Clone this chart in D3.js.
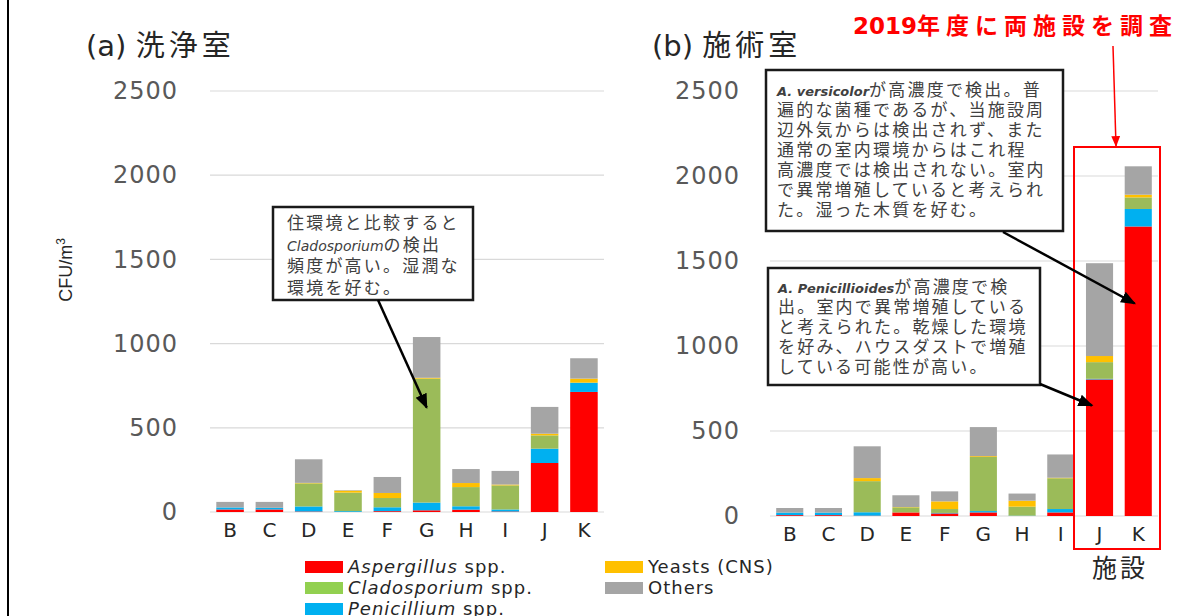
<!DOCTYPE html>
<html>
<head>
<meta charset="utf-8">
<script src="https://cdn.jsdelivr.net/npm/d3@7"></script>
<style>
  body { margin: 0; background: #fff; }
  svg { display: block; }
</style>
</head>
<body>
<div id="chart"></div>
<script>
// data (CFU/m3)
var facilities = ["B", "C", "D", "E", "F", "G", "H", "I", "J", "K"];
var yTicks = [0, 500, 1000, 1500, 2000, 2500];

// (a) 洗浄室
var aspA    = [15, 15, 3, 0, 5, 10, 14, 3, 291, 713];
var penA    = [12, 10, 30, 5, 23, 46, 20, 12, 85, 55];
var cladA   = [0, 0, 137, 110, 55, 736, 114, 143, 79, 0];
var yeastA  = [0, 0, 3, 12, 30, 5, 24, 5, 10, 24];
var othersA = [33, 35, 140, 3, 95, 242, 83, 81, 159, 121];

// (b) 施術室
var aspB    = [5, 5, 2, 21, 15, 21, 0, 21, 803, 1703];
var penB    = [15, 15, 20, 0, 3, 8, 2, 20, 4, 103];
var cladB   = [0, 0, 183, 30, 23, 318, 53, 181, 98, 68];
var yeastB  = [0, 0, 18, 2, 45, 5, 35, 3, 36, 16];
var othersB = [27, 27, 187, 69, 59, 171, 42, 137, 546, 167];

var keys = ["asp", "pen", "clad", "yeast", "others"];
var barColor = {asp: "#FF0000", pen: "#00B0F0", clad: "#9BBB59", yeast: "#FFC000", others: "#A5A5A5"};
var legendColor = {asp: "#FF0000", pen: "#00B0F0", clad: "#92D050", yeast: "#FFC000", others: "#A5A5A5"};

var width = 1196, height = 616;
var svg = d3.select("#chart").append("svg")
    .attr("width", width)
    .attr("height", height);

var defs = svg.append("defs");
function marker(id, color, size) {
  defs.append("marker")
      .attr("id", id)
      .attr("viewBox", "0 0 10 10")
      .attr("refX", 9).attr("refY", 5)
      .attr("markerWidth", size).attr("markerHeight", size)
      .attr("markerUnits", "userSpaceOnUse")
      .attr("orient", "auto")
    .append("path")
      .attr("d", "M0,1 L10,5 L0,9 Z")
      .attr("fill", color);
}
marker("arrowK", "#000", 15);
marker("arrowR", "#FF0000", 11);

// left frame line
svg.append("line")
    .attr("x1", 8).attr("x2", 8).attr("y1", 0).attr("y2", height)
    .attr("stroke", "#000").attr("stroke-width", 2);

function makeRows(asp, pen, clad, yeast, others) {
  return facilities.map(function(f, i) {
    return {f: f, asp: asp[i], pen: pen[i], clad: clad[i], yeast: yeast[i], others: others[i]};
  });
}

const render_panel = (rows, box, tag, title, labelRight) => {
  var x = d3.scaleBand()
      .domain(facilities)
      .range([box.x0, box.x1])
      .paddingInner(0.3)
      .paddingOuter(0.16);
  var y = d3.scaleLinear()
      .domain([0, 2500])
      .range([box.y0, box.y1]);

  // gridlines
  svg.append("g")
    .selectAll("line")
    .data(yTicks)
    .enter().append("line")
      .attr("x1", box.x0).attr("x2", box.x1)
      .attr("y1", function(d) { return y(d); })
      .attr("y2", function(d) { return y(d); })
      .attr("stroke", "#D9D9D9")
      .attr("stroke-width", 1.2);

  // y axis labels
  var yAxis = svg.append("g")
      .attr("transform", "translate(" + box.x0 + ",0)")
      .call(d3.axisLeft(y).tickValues(yTicks).tickFormat(d3.format("d"))
        .tickSize(0).tickPadding(box.x0 - labelRight));
  yAxis.select(".domain").remove();
  yAxis.selectAll("text")
      .attr("fill", "#595959")
      .style("font-family", "DejaVu Sans")
      .style("font-size", "24px")
      .style("letter-spacing", "1px");

  // stacked bars
  var stacked = d3.stack().keys(keys)(rows);
  svg.append("g")
    .selectAll("g")
    .data(stacked)
    .enter().append("g")
      .attr("fill", function(d) { return barColor[d.key]; })
    .selectAll("rect")
    .data(function(d) { return d; })
    .enter().append("rect")
      .attr("x", function(d) { return x(d.data.f); })
      .attr("width", x.bandwidth())
      .attr("y", function(d) { return y(d[1]); })
      .attr("height", function(d) { return y(d[0]) - y(d[1]); });

  // x axis labels
  var xAxis = svg.append("g")
      .attr("transform", "translate(0," + box.y0 + ")")
      .call(d3.axisBottom(x).tickSize(0).tickPadding(11));
  xAxis.select(".domain").remove();
  xAxis.selectAll("text")
      .attr("fill", "#262626")
      .style("font-family", "DejaVu Sans")
      .style("font-size", "20px");

  // panel title
  var t = svg.append("text")
      .attr("x", box.titleX).attr("y", 56)
      .attr("fill", "#262626")
      .style("font-size", "29px");
  t.append("tspan").style("font-family", "DejaVu Sans").text(tag + " ");
  t.append("tspan").style("font-family", "Noto Sans CJK JP")
      .style("letter-spacing", "4px").text(title);

  return {x: x, y: y};
};

var left = render_panel(makeRows(aspA, penA, cladA, yeastA, othersA),
    {x0: 210, x1: 604, y0: 512, y1: 91, titleX: 86}, "(a)", "洗浄室", 178);
var right = render_panel(makeRows(aspB, penB, cladB, yeastB, othersB),
    {x0: 770, x1: 1158, y0: 516, y1: 91, titleX: 652}, "(b)", "施術室", 740);

// y axis title
var yt = svg.append("text")
    .attr("transform", "translate(72,270) rotate(-90)")
    .attr("text-anchor", "middle")
    .attr("fill", "#262626")
    .style("font-family", "Liberation Sans")
    .style("font-size", "18px");
yt.append("tspan").text("CFU/m");
yt.append("tspan").attr("dy", -7).style("font-size", "12px").text("3");

// 施設 label
svg.append("text")
    .attr("x", 1120).attr("y", 577)
    .attr("text-anchor", "middle")
    .attr("fill", "#262626")
    .style("font-family", "Noto Sans CJK JP")
    .style("font-size", "25px")
    .style("letter-spacing", "3px")
    .text("施設");

// highlight box around J, K of (b)
svg.append("rect")
    .attr("x", 1074).attr("y", 147)
    .attr("width", 86).attr("height", 402)
    .attr("fill", "none")
    .attr("stroke", "#FF0000")
    .attr("stroke-width", 2);

var red = svg.append("text")
    .attr("x", 853).attr("y", 34)
    .attr("fill", "#FF0000")
    .style("font-size", "23px")
    .style("font-weight", "bold");
red.append("tspan").style("font-family", "DejaVu Sans").text("2019");
red.append("tspan").style("font-family", "Noto Sans CJK JP")
    .style("letter-spacing", "6px").text("年度に両施設を調査");

svg.append("line")
    .attr("x1", 1113).attr("y1", 46).attr("x2", 1116).attr("y2", 146)
    .attr("stroke", "#FF0000").attr("stroke-width", 1.5)
    .attr("marker-end", "url(#arrowR)");

// callouts: each line is a list of [text, style]
function callout(bx, by, bw, bh, tx, ty, lines, lineH) {
  svg.append("rect")
      .attr("x", bx).attr("y", by).attr("width", bw).attr("height", bh)
      .attr("fill", "#fff")
      .attr("stroke", "#1a1a1a")
      .attr("stroke-width", 2.5);
  lines.forEach(function(parts, i) {
    var t = svg.append("text")
        .attr("x", tx).attr("y", ty + i * lineH)
        .attr("fill", "#404040");
    parts.forEach(function(p) {
      var s = t.append("tspan").text(p[0]);
      if (p[1] == "i") {
        s.style("font-family", "DejaVu Sans").style("font-style", "italic").style("font-size", "14px");
      } else if (p[1] == "bi") {
        s.style("font-family", "DejaVu Sans").style("font-style", "italic")
         .style("font-weight", "bold").style("font-size", "13px");
      } else {
        s.style("font-family", "Noto Sans CJK JP").style("font-size", "17px").style("letter-spacing", "2.2px");
      }
    });
  });
}

callout(273, 207, 200, 93, 287, 229, [
  [["住環境と比較すると", "j"]],
  [["Cladosporium", "i"], ["の検出", "j"]],
  [["頻度が高い。湿潤な", "j"]],
  [["環境を好む。", "j"]]
], 21.5);

callout(766, 70, 297, 161, 777, 96, [
  [["A. versicolor", "bi"], ["が高濃度で検出。普", "j"]],
  [["遍的な菌種であるが、当施設周", "j"]],
  [["辺外気からは検出されず、また", "j"]],
  [["通常の室内環境からはこれ程", "j"]],
  [["高濃度では検出されない。室内", "j"]],
  [["で異常増殖していると考えられ", "j"]],
  [["た。湿った木質を好む。", "j"]]
], 20);

callout(768, 268, 272, 117, 778, 293, [
  [["A. Penicillioides", "bi"], ["が高濃度で検", "j"]],
  [["出。室内で異常増殖している", "j"]],
  [["と考えられた。乾燥した環境", "j"]],
  [["を好み、ハウスダストで増殖", "j"]],
  [["している可能性が高い。", "j"]]
], 20);

// callout arrows point at bars through the scales
var arrows = [
  {x1: 378, y1: 300, x2: left.x("G") + left.x.bandwidth() / 2, y2: left.y(620)},
  {x1: 1003, y1: 232, x2: right.x("K") + 10, y2: right.y(1250)},
  {x1: 1040, y1: 384, x2: right.x("J") + 6, y2: right.y(650)}
];
svg.append("g")
  .selectAll("line")
  .data(arrows)
  .enter().append("line")
    .attr("x1", function(d) { return d.x1; })
    .attr("y1", function(d) { return d.y1; })
    .attr("x2", function(d) { return d.x2; })
    .attr("y2", function(d) { return d.y2; })
    .attr("stroke", "#000")
    .attr("stroke-width", 2.5)
    .attr("marker-end", "url(#arrowK)");

// legend
var legendItems = [
  {key: "asp", genus: "Aspergillus", rest: " spp.", col: 0, row: 0},
  {key: "clad", genus: "Cladosporium", rest: " spp.", col: 0, row: 1},
  {key: "pen", genus: "Penicillium", rest: " spp.", col: 0, row: 2},
  {key: "yeast", genus: "", rest: "Yeasts (CNS)", col: 1, row: 0},
  {key: "others", genus: "", rest: "Others", col: 1, row: 1}
];
var lg = svg.append("g")
  .selectAll("g")
  .data(legendItems)
  .enter().append("g")
    .attr("transform", function(d) { return "translate(" + (305 + d.col * 300) + "," + (561 + d.row * 21) + ")"; });
lg.append("rect")
    .attr("width", 38).attr("height", 12)
    .attr("fill", function(d) { return legendColor[d.key]; });
var lt = lg.append("text")
    .attr("x", 43).attr("y", 12)
    .attr("fill", "#262626")
    .style("font-family", "DejaVu Sans")
    .style("font-size", "18px")
    .style("letter-spacing", "1px");
lt.append("tspan").style("font-style", "italic").text(function(d) { return d.genus; });
lt.append("tspan").text(function(d) { return d.rest; });
</script>
</body>
</html>
